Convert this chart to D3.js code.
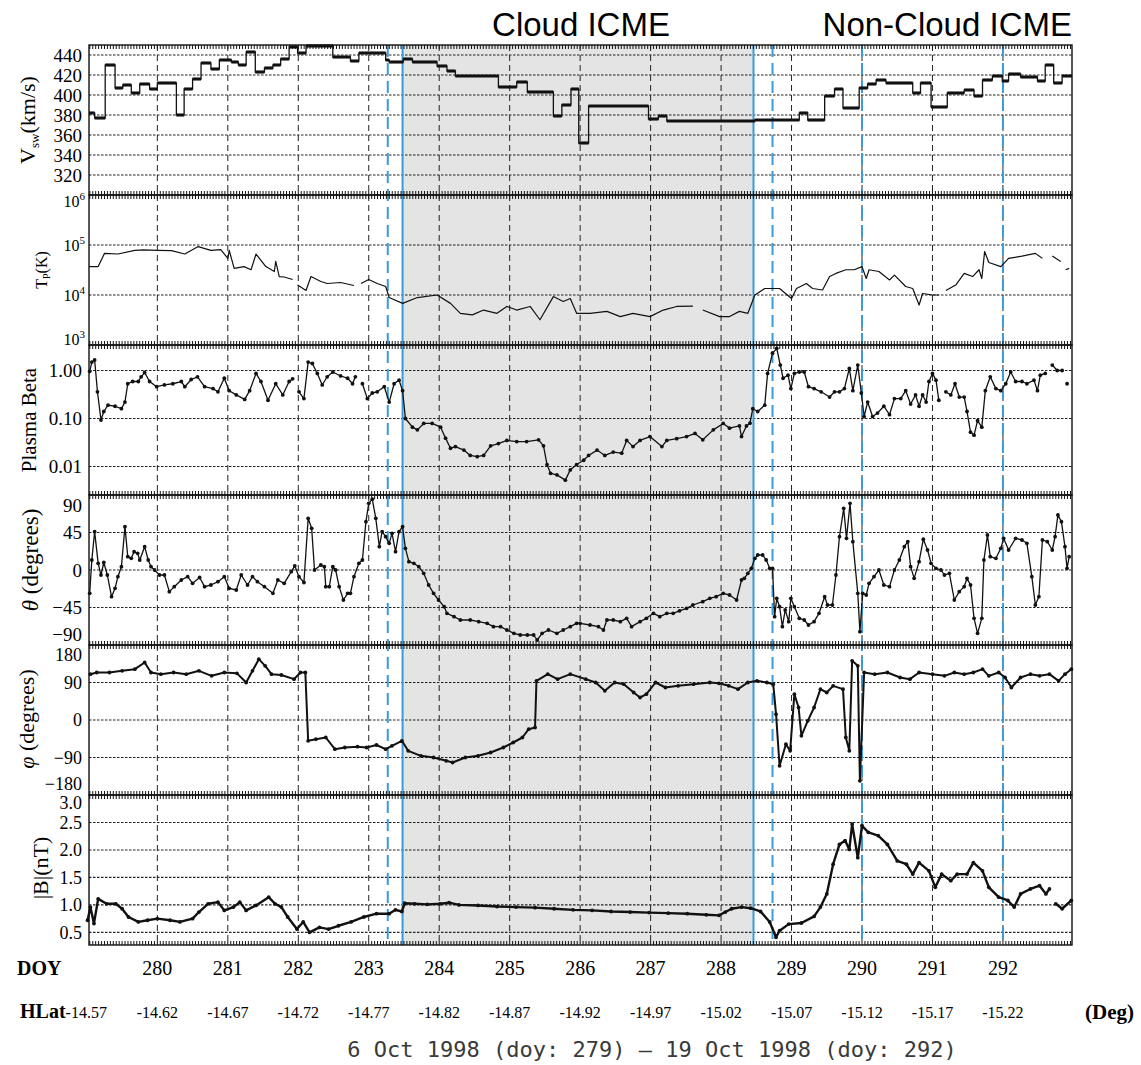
<!DOCTYPE html>
<html>
<head>
<meta charset="utf-8">
<script src="https://cdn.jsdelivr.net/npm/d3@7"></script>
<style>
  body { margin: 0; background: #fff; }
  svg text { font-family: "Liberation Serif", "Times New Roman", serif; fill: #000; }
</style>
</head>
<body>
<svg id="chart" width="1141" height="1065"></svg>
<script>
// ---- axis labels / markers ----
var doyTicks = [280, 281, 282, 283, 284, 285, 286, 287, 288, 289, 290, 291, 292];
var hlatFirst = "-14.57";
var hlatLabels = ["-14.62", "-14.67", "-14.72", "-14.77", "-14.82", "-14.87", "-14.92",
                  "-14.97", "-15.02", "-15.07", "-15.12", "-15.17", "-15.22"];
var cloudEdges = [283.48, 288.46];          // solid blue lines, shaded between
var dashedMarks = [283.27, 288.73, 290.0, 292.0];

var vswTicks = [320, 340, 360, 380, 400, 420, 440];
var tTicks = [1e3, 1e4, 1e5, 1e6];
var betaTicks = [0.01, 0.10, 1.00];
var thetaTicks = [-90, -45, 0, 45, 90];
var phiTicks = [-180, -90, 0, 90, 180];
var bTicks = [0.5, 1.0, 1.5, 2.0, 2.5, 3.0];

// ---- series: [doy, value] ----
// solar wind speed, piecewise constant (value holds from this doy to the next)
var vswSteps = [
  [279.03,382],[279.11,377],[279.26,430],[279.40,407],[279.51,410],[279.63,402],[279.75,411],
  [279.89,406],[280.00,412],[280.27,380],[280.38,406],[280.50,416],[280.62,432],[280.76,426],
  [280.88,435],[281.05,433],[281.15,430],[281.26,443],[281.39,423],[281.52,427],[281.64,430],
  [281.75,436],[281.87,448],[281.99,442],[282.11,449],[282.49,438],[282.74,434],[282.86,442],
  [283.24,435],[283.29,433],[283.49,436],[283.62,433],[283.97,429],[284.11,424],[284.23,419],
  [284.84,408],[285.10,413],[285.25,403],[285.62,379],[285.74,390],[285.87,406],[285.98,352],
  [286.12,389],[286.97,376],[287.11,379],[287.23,374],[288.48,375],[289.11,382],[289.23,375],
  [289.47,399],[289.61,406],[289.73,387],[289.96,407],[290.08,411],[290.20,415],[290.34,412],
  [290.72,402],[290.83,412],[290.98,388],[291.21,402],[291.45,405],[291.59,399],[291.71,415],
  [291.85,419],[291.99,414],[292.08,421],[292.25,418],[292.49,414],[292.60,430],[292.72,412],
  [292.84,419],[292.98,419]
];

var tempK = [
  [279.03,37000],[279.16,37000],[279.25,68000],[279.44,66000],[279.68,78000],[279.80,80000],
  [280.01,78000],[280.20,77000],[280.39,66000],[280.58,93000],[280.76,78000],[280.90,81000],
  [281.00,54000],[281.02,78000],[281.09,34000],[281.23,37000],[281.33,32000],[281.40,66000],
  [281.54,37000],[281.66,29500],[281.68,47000],[281.73,23400],[281.80,22900],[281.92,20400],
  [281.95,null],[281.99,15800],[282.11,12300],[282.18,23400],[282.32,18600],[282.41,17000],
  [282.60,17800],[282.79,15500],[282.84,null],[282.89,17000],[283.00,20400],[283.12,17000],
  [283.24,14800],[283.29,8900],[283.48,6800],[283.69,8900],[283.97,10000],[284.16,6800],
  [284.30,4300],[284.47,4000],[284.63,5000],[284.82,4300],[284.96,5900],[285.10,5000],
  [285.29,5900],[285.43,3200],[285.62,9300],[285.76,7400],[285.86,8500],[285.95,4300],
  [286.14,4300],[286.38,4700],[286.57,3700],[286.75,4300],[286.99,3700],[287.18,5000],
  [287.37,5900],[287.60,6000],[287.67,null],[287.74,5000],[287.98,3700],[288.12,3700],
  [288.26,4700],[288.38,4300],[288.48,10000],[288.62,13500],[288.83,13500],[289.00,8500],
  [289.07,13500],[289.21,17000],[289.30,13500],[289.44,12600],[289.54,23400],[289.63,27000],
  [289.77,32000],[289.89,32000],[290.00,37000],[290.06,21400],[290.10,32000],[290.24,29500],
  [290.39,20000],[290.46,25000],[290.62,14800],[290.72,13500],[290.81,6300],[290.86,10700],
  [291.00,10000],[291.09,10000],[291.14,null],[291.19,12300],[291.33,15800],[291.45,27000],
  [291.57,23400],[291.66,32000],[291.70,21400],[291.74,74000],[291.80,44700],[291.97,37000],
  [292.08,54000],[292.27,60000],[292.46,68000],[292.56,54000],[292.63,null],[292.70,60000],
  [292.82,47000],[292.85,null],[292.89,32000],[292.94,34000]
];

var beta = [
  [279.04,0.96],[279.07,1.5],[279.11,1.66],[279.15,0.36],[279.20,0.093],[279.24,0.14],
  [279.30,0.19],[279.40,0.18],[279.49,0.16],[279.54,0.22],[279.58,0.53],[279.65,0.59],
  [279.73,0.59],[279.77,0.74],[279.82,0.91],[279.89,0.59],[279.99,0.46],[280.10,0.50],
  [280.22,0.53],[280.34,0.59],[280.39,0.46],[280.48,0.65],[280.57,0.74],[280.67,0.46],
  [280.79,0.42],[280.86,0.36],[280.95,0.69],[281.02,0.38],[281.12,0.31],[281.24,0.25],
  [281.31,0.38],[281.40,0.87],[281.47,0.59],[281.57,0.24],[281.68,0.53],[281.78,0.31],
  [281.87,0.59],[281.92,0.67],[281.95,null],[282.01,0.36],[282.08,0.26],[282.14,1.5],
  [282.20,1.4],[282.27,0.87],[282.34,0.50],[282.41,0.74],[282.49,0.93],[282.60,0.77],
  [282.70,0.69],[282.77,0.53],[282.81,0.74],[282.84,null],[282.91,0.53],[282.98,0.26],
  [283.05,0.34],[283.12,0.36],[283.22,0.46],[283.29,0.22],[283.36,0.53],[283.43,0.63],
  [283.48,0.38],[283.52,0.10],[283.62,0.066],[283.69,0.058],[283.78,0.079],[283.90,0.079],
  [284.02,0.066],[284.09,0.039],[284.16,0.024],[284.23,0.026],[284.35,0.022],[284.44,0.017],
  [284.54,0.016],[284.63,0.017],[284.73,0.027],[284.84,0.030],[284.96,0.035],[285.10,0.033],
  [285.24,0.033],[285.41,0.036],[285.48,0.027],[285.53,0.011],[285.58,0.0072],[285.67,0.0067],
  [285.79,0.0052],[285.86,0.0085],[285.95,0.011],[286.05,0.0135],[286.12,0.017],[286.24,0.022],
  [286.35,0.017],[286.47,0.020],[286.59,0.019],[286.66,0.035],[286.75,0.026],[286.85,0.035],
  [286.99,0.042],[287.16,0.026],[287.23,0.035],[287.37,0.038],[287.51,0.042],[287.63,0.049],
  [287.74,0.036],[287.89,0.058],[288.03,0.079],[288.12,0.063],[288.26,0.070],[288.29,0.042],
  [288.36,0.070],[288.41,0.080],[288.45,0.16],[288.52,0.14],[288.62,0.19],[288.66,0.87],
  [288.73,2.3],[288.79,2.9],[288.84,1.3],[288.88,0.69],[288.95,0.80],[288.99,0.42],
  [289.04,0.87],[289.11,0.93],[289.18,0.93],[289.24,0.46],[289.32,0.42],[289.42,0.36],
  [289.54,0.28],[289.61,0.36],[289.68,0.36],[289.75,0.42],[289.82,1.1],[289.87,0.38],
  [289.94,1.3],[289.99,0.34],[290.03,0.11],[290.08,0.22],[290.15,0.11],[290.22,0.13],
  [290.31,0.18],[290.39,0.12],[290.46,0.26],[290.55,0.26],[290.62,0.38],[290.69,0.20],
  [290.76,0.31],[290.81,0.18],[290.86,0.31],[290.91,0.22],[290.95,0.59],[291.00,0.87],
  [291.05,0.63],[291.09,0.24],[291.12,null],[291.19,0.36],[291.26,0.31],[291.32,0.53],
  [291.38,0.28],[291.45,0.28],[291.49,0.14],[291.54,0.052],[291.59,0.045],[291.64,0.09],
  [291.70,0.066],[291.75,0.38],[291.82,0.74],[291.90,0.42],[291.97,0.38],[292.04,0.53],
  [292.11,0.93],[292.18,0.59],[292.27,0.59],[292.34,0.53],[292.44,0.63],[292.49,0.38],
  [292.53,0.80],[292.60,0.87],[292.63,null],[292.70,1.3],[292.77,1.0],[292.84,1.0],
  [292.87,null],[292.91,0.53]
];

var theta = [
  [279.04,-28],[279.07,12],[279.11,46],[279.16,8],[279.20,-6],[279.24,9],[279.29,-6],
  [279.35,-32],[279.40,-22],[279.44,-8],[279.49,4],[279.54,52],[279.58,16],[279.63,14],
  [279.67,22],[279.72,20],[279.75,12],[279.82,28],[279.87,12],[279.91,4],[279.96,0],
  [280.03,-6],[280.10,-6],[280.17,-26],[280.24,-20],[280.34,-12],[280.43,-8],[280.50,-16],
  [280.60,-9],[280.67,-20],[280.76,-18],[280.86,-14],[280.95,-8],[281.02,-22],[281.12,-24],
  [281.19,-6],[281.28,-18],[281.35,-8],[281.42,-14],[281.52,-20],[281.64,-28],[281.71,-12],
  [281.80,-16],[281.90,-2],[281.95,5],[282.01,-8],[282.08,-15],[282.14,62],[282.19,50],
  [282.23,0],[282.32,6],[282.37,4],[282.39,-20],[282.44,-20],[282.49,4],[282.53,0],
  [282.58,-20],[282.64,-36],[282.70,-28],[282.74,-28],[282.79,-8],[282.86,8],[282.91,12],
  [282.96,58],[283.00,80],[283.05,85],[283.10,62],[283.15,28],[283.19,46],[283.24,40],
  [283.29,32],[283.33,44],[283.38,22],[283.43,46],[283.48,52],[283.52,26],[283.57,10],
  [283.64,8],[283.71,4],[283.78,-4],[283.85,-18],[283.92,-28],[283.99,-36],[284.07,-44],
  [284.11,-52],[284.21,-56],[284.30,-60],[284.44,-60],[284.56,-62],[284.68,-64],[284.77,-68],
  [284.87,-68],[284.96,-72],[285.06,-76],[285.15,-78],[285.25,-78],[285.34,-78],[285.39,-84],
  [285.46,-76],[285.55,-72],[285.67,-76],[285.76,-72],[285.86,-68],[285.95,-64],[286.00,-64],
  [286.14,-66],[286.26,-68],[286.33,-72],[286.38,-60],[286.47,-60],[286.57,-62],[286.66,-58],
  [286.73,-68],[286.85,-62],[286.94,-58],[287.04,-52],[287.13,-56],[287.23,-52],[287.32,-52],
  [287.41,-49],[287.51,-46],[287.60,-42],[287.74,-38],[287.84,-34],[287.93,-32],[288.03,-28],
  [288.12,-30],[288.22,-36],[288.29,-12],[288.33,-10],[288.38,-4],[288.43,2],[288.48,14],
  [288.52,18],[288.59,18],[288.64,12],[288.69,2],[288.73,2],[288.76,-56],[288.79,-34],
  [288.83,-44],[288.87,-68],[288.91,-48],[288.96,-62],[288.99,-34],[289.04,-44],[289.11,-58],
  [289.18,-60],[289.24,-66],[289.32,-62],[289.39,-52],[289.47,-32],[289.51,-42],[289.58,-42],
  [289.63,-6],[289.68,40],[289.74,74],[289.78,38],[289.83,80],[289.87,34],[289.94,-28],
  [289.97,-74],[290.01,-28],[290.06,-30],[290.10,-16],[290.17,-8],[290.24,0],[290.31,-18],
  [290.39,-20],[290.46,0],[290.53,12],[290.60,28],[290.65,34],[290.69,4],[290.74,-10],
  [290.81,10],[290.87,37],[290.93,24],[290.98,8],[291.05,2],[291.12,0],[291.17,-6],
  [291.24,-4],[291.31,-36],[291.38,-26],[291.45,-20],[291.49,-10],[291.54,-18],[291.59,-58],
  [291.64,-76],[291.70,-58],[291.73,12],[291.78,42],[291.82,16],[291.90,14],[291.97,26],
  [292.01,38],[292.08,24],[292.18,38],[292.27,36],[292.34,32],[292.41,-8],[292.46,-42],
  [292.51,-32],[292.56,36],[292.63,34],[292.70,24],[292.74,40],[292.78,66],[292.83,58],
  [292.88,28],[292.91,2],[292.94,16]
];

var phi = [
  [279.05,110],[279.14,114],[279.32,114],[279.50,118],[279.68,122],[279.82,138],[279.91,114],
  [280.05,110],[280.23,114],[280.41,110],[280.59,118],[280.77,106],[280.95,114],[281.13,112],
  [281.26,90],[281.35,118],[281.44,146],[281.53,130],[281.62,110],[281.76,108],[281.94,98],
  [282.03,114],[282.10,114],[282.14,-50],[282.25,-46],[282.39,-42],[282.52,-70],[282.66,-66],
  [282.84,-64],[282.97,-66],[283.11,-60],[283.24,-70],[283.33,-62],[283.47,-50],[283.56,-74],
  [283.74,-86],[283.92,-90],[284.10,-98],[284.19,-102],[284.37,-90],[284.55,-86],[284.73,-78],
  [284.91,-66],[285.05,-54],[285.18,-42],[285.27,-22],[285.36,-18],[285.38,94],[285.54,110],
  [285.68,98],[285.86,110],[286.08,98],[286.22,90],[286.35,70],[286.49,90],[286.62,86],
  [286.76,66],[286.85,54],[286.94,62],[287.07,90],[287.21,78],[287.39,82],[287.61,86],
  [287.84,90],[287.97,88],[288.11,82],[288.24,74],[288.38,90],[288.51,94],[288.65,90],
  [288.74,86],[288.78,14],[288.83,-110],[288.92,-58],[288.98,-74],[289.04,62],[289.10,30],
  [289.14,-38],[289.23,-2],[289.32,30],[289.41,74],[289.50,66],[289.59,82],[289.73,74],
  [289.77,-42],[289.82,-74],[289.86,142],[289.94,130],[289.97,-146],[290.03,114],[290.18,110],
  [290.36,114],[290.54,102],[290.68,98],[290.81,114],[291.00,110],[291.17,106],[291.31,114],
  [291.45,110],[291.58,114],[291.71,122],[291.80,106],[291.94,114],[292.03,102],[292.12,78],
  [292.25,102],[292.39,110],[292.52,106],[292.66,110],[292.79,94],[292.88,110],[292.97,122]
];

var bMag = [
  [279.01,0.72],[279.05,0.96],[279.10,0.66],[279.16,1.11],[279.28,1.02],[279.41,1.02],
  [279.50,0.93],[279.59,0.78],[279.73,0.69],[279.86,0.72],[280.00,0.75],[280.18,0.72],
  [280.32,0.69],[280.50,0.75],[280.59,0.87],[280.72,1.02],[280.86,1.05],[280.95,0.90],
  [281.08,0.96],[281.17,1.05],[281.26,0.90],[281.40,0.99],[281.58,1.14],[281.67,1.02],
  [281.76,0.96],[281.85,0.78],[281.98,0.56],[282.07,0.69],[282.16,0.50],[282.30,0.59],
  [282.43,0.56],[282.57,0.62],[282.75,0.69],[282.93,0.78],[283.11,0.84],[283.29,0.84],
  [283.38,0.91],[283.47,0.88],[283.51,1.03],[283.65,1.02],[283.83,1.01],[284.01,1.02],
  [284.14,1.04],[284.28,1.00],[284.55,0.99],[284.82,0.97],[285.09,0.96],[285.36,0.95],
  [285.63,0.93],[285.90,0.91],[286.17,0.90],[286.44,0.88],[286.71,0.87],[286.98,0.86],
  [287.25,0.85],[287.52,0.84],[287.79,0.82],[287.97,0.81],[288.06,0.87],[288.15,0.93],
  [288.29,0.96],[288.42,0.94],[288.56,0.88],[288.69,0.69],
  [288.78,0.41],[288.83,0.53],[288.96,0.65],[289.14,0.67],[289.32,0.79],[289.41,0.96],
  [289.50,1.20],[289.59,1.74],[289.68,2.10],[289.76,2.17],[289.82,2.01],[289.86,2.47],
  [289.94,1.86],[290.00,2.44],[290.09,2.32],[290.23,2.26],[290.36,2.10],[290.50,1.80],
  [290.63,1.74],[290.72,1.56],[290.81,1.77],[290.95,1.62],[291.04,1.32],[291.13,1.56],
  [291.26,1.44],[291.35,1.56],[291.49,1.56],[291.58,1.77],[291.71,1.62],[291.80,1.32],
  [291.94,1.14],[292.07,1.08],[292.16,0.96],[292.25,1.20],[292.39,1.29],[292.52,1.35],
  [292.61,1.20],[292.66,1.29],[292.70,null],[292.75,1.02],[292.84,0.93],[292.97,1.08]
];

// ---- layout ----
var svg = d3.select("#chart");
var left = 89, right = 1072, top0 = 45, ph = 150;
var x = d3.scaleLinear().domain([279.03, 292.98]).range([left, right]);
var blue = "#3b9bd8";

// endShift: [push top label down, push bottom label up]
var panels = [
  { data: null,  y: d3.scaleLinear().domain([300, 450]), ticks: vswTicks, fmt: d3.format("d"), fs: 19, dots: false, lw: 1.2, endShift: [8, 6] },
  { data: tempK, y: d3.scaleLog().domain([1e3, 1e6]),    ticks: tTicks,   fmt: null,            fs: 16, dots: false, lw: 1.2, endShift: [6, 6] },
  { data: beta,  y: d3.scaleLog().domain([0.00255, 3.4]), ticks: betaTicks, fmt: d3.format(".2f"), fs: 19, dots: true, lw: 1.3, endShift: [8, 6] },
  { data: theta, y: d3.scaleLinear().domain([-90, 90]),  ticks: thetaTicks, fmt: d3.format("d"), fs: 19, dots: true, lw: 1.3, endShift: [10, 11] },
  { data: phi,   y: d3.scaleLinear().domain([-180, 180]), ticks: phiTicks, fmt: d3.format("d"),  fs: 18, dots: true, lw: 2.0, endShift: [10, 11.5] },
  { data: bMag,  y: d3.scaleLinear().domain([0.27, 3.0]), ticks: bTicks,   fmt: d3.format(".1f"), fs: 18, dots: true, lw: 2.4, endShift: [7.5, 6] }
];
panels.forEach(function(p, i) {
  p.top = top0 + i * ph;
  p.bottom = p.top + ph;
  p.y.range([p.bottom, p.top]);
});

// cloud shading
svg.append("rect")
   .attr("x", x(cloudEdges[0]))
   .attr("y", top0)
   .attr("width", x(cloudEdges[1]) - x(cloudEdges[0]))
   .attr("height", ph * panels.length)
   .attr("fill", "#e4e4e4");

var hours = d3.range(Math.ceil(279.03 * 24), Math.floor(292.98 * 24) + 1).map(function(h) { return h / 24; });

panels.forEach(function(p, i) {
  var g = svg.append("g");

  // horizontal grid
  g.selectAll(".hg")
   .data(p.ticks.filter(function(t) { var yy = p.y(t); return yy > p.top + 1 && yy < p.bottom - 1; }))
   .enter().append("line")
   .attr("x1", left).attr("x2", right)
   .attr("y1", function(t) { return p.y(t); })
   .attr("y2", function(t) { return p.y(t); })
   .attr("stroke", "#222")
   .attr("stroke-width", 1.1)
   .attr("stroke-dasharray", "2.5,1.5");

  // vertical day grid
  g.selectAll(".vg")
   .data(doyTicks)
   .enter().append("line")
   .attr("x1", function(d) { return x(d); })
   .attr("x2", function(d) { return x(d); })
   .attr("y1", p.top).attr("y2", p.bottom)
   .attr("stroke", "#222")
   .attr("stroke-width", 1)
   .attr("stroke-dasharray", "6,4");

  // tick labels
  var tl = g.selectAll(".tl")
   .data(p.ticks)
   .enter().append("text")
   .attr("text-anchor", "end")
   .attr("dy", "0.35em")
   .attr("y", function(t) {
      var yy = p.y(t);
      if (Math.abs(yy - p.top) < 2) yy += p.endShift[0];
      if (Math.abs(yy - p.bottom) < 2) yy -= p.endShift[1];
      return yy;
   });
  if (p.fmt) {
    tl.attr("x", 82).style("font-size", p.fs + "px").text(p.fmt);
  } else {
    tl.attr("x", 85).style("font-size", p.fs + "px");
    tl.append("tspan").text("10");
    tl.append("tspan").attr("dy", -7).style("font-size", "11px")
      .text(function(t) { return Math.round(Math.log10(t)); });
  }
});

// event lines
svg.selectAll(".solid")
   .data(cloudEdges)
   .enter().append("line")
   .attr("x1", function(d) { return x(d); }).attr("x2", function(d) { return x(d); })
   .attr("y1", top0).attr("y2", top0 + ph * panels.length)
   .attr("stroke", blue).attr("stroke-width", 2);

svg.selectAll(".dashed")
   .data(dashedMarks)
   .enter().append("line")
   .attr("x1", function(d) { return x(d); }).attr("x2", function(d) { return x(d); })
   .attr("y1", top0).attr("y2", top0 + ph * panels.length)
   .attr("stroke", blue).attr("stroke-width", 2)
   .attr("stroke-dasharray", "12,6");

// ---- data ----
var vy = panels[0].y;
svg.append("path")
   .datum(vswSteps)
   .attr("fill", "none")
   .attr("stroke", "#111")
   .attr("stroke-width", 1.3)
   .attr("d", d3.line().curve(d3.curveStepAfter)
      .x(function(d) { return x(d[0]); })
      .y(function(d) { return vy(d[1]); }));

svg.selectAll(".vseg")
   .data(vswSteps.slice(0, -1))
   .enter().append("line")
   .attr("x1", function(d) { return x(d[0]); })
   .attr("x2", function(d, i) { return x(vswSteps[i + 1][0]); })
   .attr("y1", function(d) { return vy(d[1]); })
   .attr("y2", function(d) { return vy(d[1]); })
   .attr("stroke", "#111")
   .attr("stroke-width", 3.1);

panels.forEach(function(p, i) {
  if (!p.data) return;
  var line = d3.line()
    .defined(function(d) { return d[1] != null; })
    .x(function(d) { return x(d[0]); })
    .y(function(d) { return p.y(d[1]); });

  svg.append("path")
     .datum(p.data)
     .attr("fill", "none")
     .attr("stroke", "#111")
     .attr("stroke-width", p.lw)
     .attr("stroke-linejoin", "round")
     .attr("d", line);

  if (p.dots) {
    svg.append("g").selectAll("circle")
       .data(p.data.filter(function(d) { return d[1] != null; }))
       .enter().append("circle")
       .attr("cx", function(d) { return x(d[0]); })
       .attr("cy", function(d) { return p.y(d[1]); })
       .attr("r", 1.9)
       .attr("fill", "#111");
  }
});

// panel frames and hourly ticks
panels.forEach(function(p) {
  svg.append("rect")
     .attr("x", left).attr("y", p.top)
     .attr("width", right - left).attr("height", ph)
     .attr("fill", "none").attr("stroke", "#111").attr("stroke-width", 1.4);

  svg.append("g").selectAll("line")
     .data(hours)
     .enter().append("line")
     .attr("x1", function(d) { return x(d); }).attr("x2", function(d) { return x(d); })
     .attr("y1", p.top).attr("y2", p.top + 4)
     .attr("stroke", "#111").attr("stroke-width", 1);

  svg.append("g").selectAll("line")
     .data(hours)
     .enter().append("line")
     .attr("x1", function(d) { return x(d); }).attr("x2", function(d) { return x(d); })
     .attr("y1", p.bottom - 4).attr("y2", p.bottom)
     .attr("stroke", "#111").attr("stroke-width", 1);
});

// ---- y titles ----
function yTitle(cx, cy, size) {
  return svg.append("text")
     .attr("transform", "translate(" + cx + "," + cy + ") rotate(-90)")
     .attr("text-anchor", "middle")
     .style("font-size", size + "px");
}
var t1 = yTitle(35, 120, 22);
t1.append("tspan").text("V");
t1.append("tspan").attr("dy", 4).style("font-size", "13px").text("sw");
t1.append("tspan").attr("dy", -4).text("(km/s)");

var t2 = yTitle(47, 270, 16);
t2.append("tspan").text("T");
t2.append("tspan").attr("dy", 3).style("font-size", "10px").text("P");
t2.append("tspan").attr("dy", -3).text("(K)");

yTitle(36, 420, 21).text("Plasma Beta");

var t4 = yTitle(38, 560, 23);
t4.append("tspan").style("font-style", "italic").text("\u03b8");
t4.append("tspan").text(" (degrees)");

var t5 = yTitle(34, 719, 22);
t5.append("tspan").style("font-style", "italic").text("\u03c6");
t5.append("tspan").text(" (degrees)");

yTitle(48, 868, 22).text("|B|(nT)");

// ---- bottom axis labels ----
svg.append("text").attr("x", 17).attr("y", 975)
   .style("font-size", "20px").style("font-weight", "bold").text("DOY");

svg.selectAll(".doy")
   .data(doyTicks)
   .enter().append("text")
   .attr("x", function(d) { return x(d); })
   .attr("y", 975)
   .attr("text-anchor", "middle")
   .style("font-size", "20px")
   .text(function(d) { return d; });

var hl = svg.append("text").attr("x", 20).attr("y", 1018);
hl.append("tspan").style("font-size", "20px").style("font-weight", "bold").text("HLat");
hl.append("tspan").style("font-size", "16px").text(hlatFirst);

svg.selectAll(".hlat")
   .data(hlatLabels)
   .enter().append("text")
   .attr("x", function(d, i) { return x(doyTicks[i]); })
   .attr("y", 1018)
   .attr("text-anchor", "middle")
   .style("font-size", "16px")
   .text(function(d) { return d; });

svg.append("text").attr("x", 1085).attr("y", 1019)
   .style("font-size", "21px").style("font-weight", "bold").text("(Deg)");

svg.append("text").attr("x", 652).attr("y", 1057)
   .attr("text-anchor", "middle")
   .style("font-family", "'DejaVu Sans Mono', monospace")
   .style("font-size", "22px")
   .style("fill", "#3a3a3a")
   .text("6 Oct 1998 (doy: 279) \u2013 19 Oct 1998 (doy: 292)");

// ---- event titles ----
svg.append("text").attr("x", 581).attr("y", 36)
   .attr("text-anchor", "middle")
   .style("font-family", "'Liberation Sans', Arial, sans-serif")
   .style("font-size", "33px")
   .text("Cloud ICME");

svg.append("text").attr("x", 1072).attr("y", 36)
   .attr("text-anchor", "end")
   .style("font-family", "'Liberation Sans', Arial, sans-serif")
   .style("font-size", "33px")
   .text("Non-Cloud ICME");
</script>
</body>
</html>
